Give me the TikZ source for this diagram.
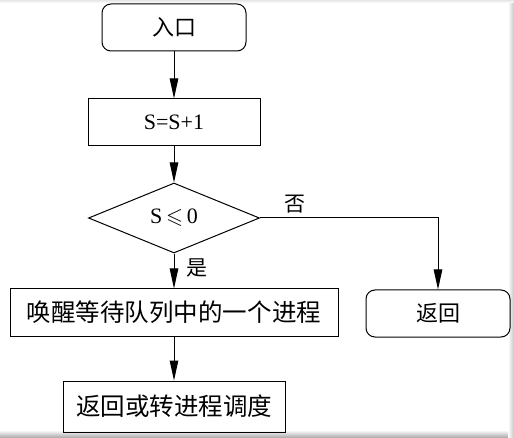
\documentclass[tikz,border=0pt]{standalone}
\usepackage{fontspec}
\usepackage{amssymb}
\setmainfont{Liberation Serif}
\newfontfamily\cjk{Noto Sans CJK SC}
\usetikzlibrary{shapes.geometric,arrows.meta}
\begin{document}
\begin{tikzpicture}[x=1pt,y=-1pt,
  every node/.style={font=\fontsize{22}{24}\selectfont},
  box/.style={draw,line width=1pt,inner sep=0pt,anchor=center},
  rbox/.style={box,rounded corners=9pt},
  dec/.style={draw,line width=1pt,diamond,inner sep=0pt,minimum width=171pt,minimum height=70pt},
  arr/.style={line width=1pt,-{Triangle[length=20pt,width=8.5pt]}},
  lbl/.style={font=\cjk\fontsize{21}{24}\selectfont}]
\useasboundingbox (0,0) rectangle (514,438);
\fill[white] (0,0) rectangle (514,438);
\shade[top color=white,bottom color=gray!70] (0,430) rectangle (514,438);
\shade[left color=white,right color=gray!45] (508,0) rectangle (514,438);
\shade[top color=gray!20,bottom color=white] (0,0) rectangle (514,3);

\node[rbox,minimum width=144pt,minimum height=47pt] (in) at (174,27.5) {\cjk 入口};
\node[box,minimum width=172pt,minimum height=47pt] (inc) at (174,122.5) {S=S+1};
\node[dec] (d) at (174,218) {S\,$\leqslant$\,0};
\node[box,minimum width=328pt,minimum height=47pt] (wake) at (174,312.5) {\cjk\fontsize{24.5}{26}\selectfont 唤醒等待队列中的一个进程};
\node[box,minimum width=222pt,minimum height=51pt] (sched) at (174,406.5) {\cjk\fontsize{24.5}{26}\selectfont 返回或转进程调度};
\node[rbox,minimum width=144pt,minimum height=47pt] (ret) at (438,313.5) {\cjk 返回};

\draw[arr] (in) -- (inc);
\draw[arr] (inc) -- (d);
\draw[arr] (d) -- (wake);
\draw[arr] (wake) -- (sched);
\draw[arr] (d.east) -| (ret.north);

\node[lbl] (no) at (295,204) {否};
\node[lbl] (yes) at (197,268) {是};
\end{tikzpicture}
\end{document}
